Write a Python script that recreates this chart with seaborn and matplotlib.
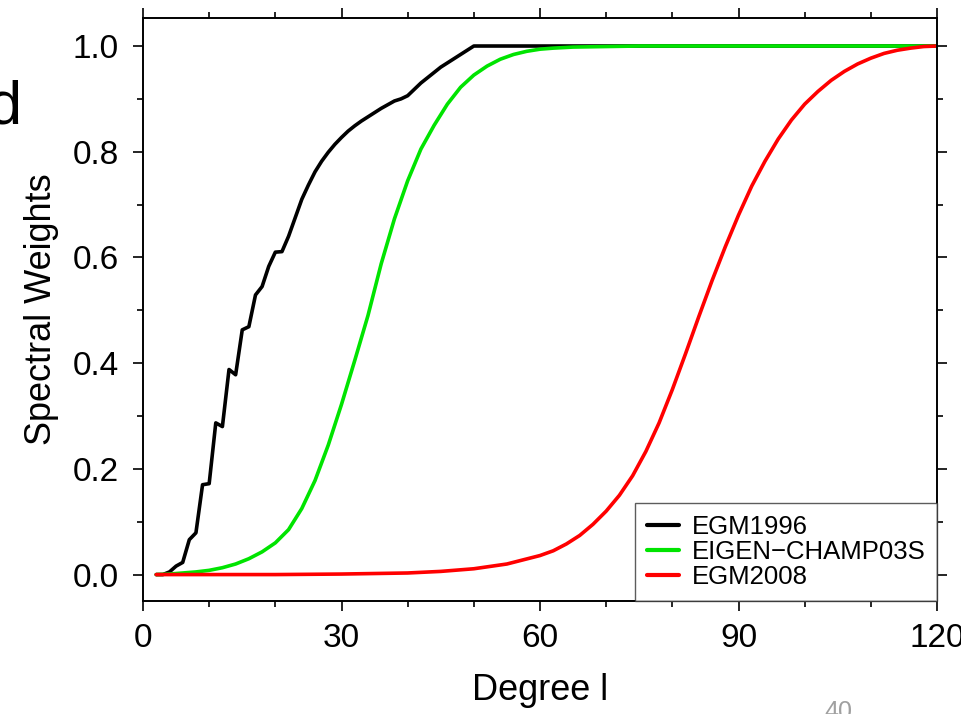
import matplotlib

matplotlib.use('Agg')
import matplotlib.pyplot as plt
import seaborn as sns
import pandas as pd
from matplotlib.ticker import MultipleLocator, FormatStrFormatter

# Данные
egm96_deg = [2, 3, 4, 5, 6, 7, 8, 9, 10, 11, 12, 13, 14, 15, 16, 17, 18, 19, 20,
             21, 22, 23, 24, 25, 26, 27, 28, 29, 30, 31, 32, 33, 34, 35, 36, 37,
             38, 39, 40, 41, 42, 43, 44, 45, 46, 47, 48, 49, 50, 120]
egm96_w = [0.0, 0.0, 0.005, 0.016, 0.023, 0.066, 0.079, 0.170, 0.172, 0.287,
           0.280, 0.388, 0.378, 0.463, 0.469, 0.529, 0.545, 0.583, 0.610, 0.611,
           0.640, 0.675, 0.710, 0.737, 0.762, 0.782, 0.799, 0.814, 0.827, 0.839,
           0.849, 0.858, 0.866, 0.874, 0.882, 0.889, 0.896, 0.900, 0.906, 0.918,
           0.930, 0.940, 0.950, 0.960, 0.968, 0.976, 0.984, 0.992, 1.0, 1.0]

champ_deg = [2, 4, 6, 8, 10, 12, 14, 16, 18, 20, 22, 24, 26, 28, 30, 32, 34, 36,
             38, 40, 42, 44, 46, 48, 50, 52, 54, 56, 58, 60, 62, 65, 70, 75, 120]
champ_w = [0.0, 0.001, 0.003, 0.005, 0.008, 0.013, 0.020, 0.030, 0.043, 0.060,
           0.085, 0.125, 0.178, 0.245, 0.322, 0.405, 0.490, 0.588, 0.673, 0.745,
           0.805, 0.850, 0.890, 0.922, 0.945, 0.962, 0.975, 0.984, 0.990, 0.994,
           0.996, 0.998, 0.999, 1.0, 1.0]

egm08_deg = [2, 10, 20, 30, 40, 45, 50, 55, 60, 62, 64, 66, 68, 70, 72, 74, 76,
             78, 80, 82, 84, 86, 88, 90, 92, 94, 96, 98, 100, 102, 104, 106, 108,
             110, 112, 114, 116, 118, 120]
egm08_w = [0.0, 0.0, 0.0, 0.001, 0.003, 0.006, 0.011, 0.020, 0.036, 0.045, 0.058,
           0.074, 0.095, 0.120, 0.150, 0.187, 0.233, 0.287, 0.350, 0.418, 0.488,
           0.556, 0.620, 0.680, 0.735, 0.782, 0.824, 0.860, 0.890, 0.914, 0.935,
           0.952, 0.966, 0.977, 0.986, 0.992, 0.996, 0.999, 1.0]

models = ['EGM1996', 'EIGEN\u2212CHAMP03S', 'EGM2008']
colors = {'EGM1996': 'black', 'EIGEN\u2212CHAMP03S': '#00e400', 'EGM2008': '#ff0000'}

df = pd.concat([
    pd.DataFrame({'degree': egm96_deg, 'weight': egm96_w, 'model': models[0]}),
    pd.DataFrame({'degree': champ_deg, 'weight': champ_w, 'model': models[1]}),
    pd.DataFrame({'degree': egm08_deg, 'weight': egm08_w, 'model': models[2]}),
])

sns.set_theme(style="ticks", rc={'text.color': 'black', 'axes.labelcolor': 'black',
                                 'xtick.color': 'black', 'ytick.color': 'black'})
plt.rcParams['font.family'] = ['Liberation Sans', 'DejaVu Sans']

fig = plt.figure(figsize=(9.61, 7.14), dpi=100)
ax = fig.add_axes([143 / 961, 1 - 601 / 714, (937 - 143) / 961, (601 - 18) / 714])

sns.lineplot(data=df, x='degree', y='weight', hue='model', hue_order=models,
             palette=colors, linewidth=2.6, ax=ax, estimator=None, sort=True)

ax.set_xlim(0, 120)
ax.set_ylim(-0.05, 1.053)
ax.xaxis.set_major_locator(MultipleLocator(30))
ax.xaxis.set_minor_locator(MultipleLocator(10))
ax.yaxis.set_major_locator(MultipleLocator(0.2))
ax.yaxis.set_minor_locator(MultipleLocator(0.1))
ax.yaxis.set_major_formatter(FormatStrFormatter('%.1f'))

ax.tick_params(which='both', direction='out', top=True, right=True,
               color='black', width=1.2)
ax.tick_params(which='major', length=7.5, labelsize=24, labelcolor='black')
ax.tick_params(axis='y', which='major', pad=10)
ax.tick_params(axis='x', which='major', pad=8)
ax.tick_params(which='minor', length=4)
for s in ax.spines.values():
    s.set_linewidth(1.4)
    s.set_color('black')

ax.set_xlabel('Degree l', fontsize=26, labelpad=14, color='black')
ax.set_ylabel('Spectral Weights', fontsize=26, labelpad=10, color='black')

leg = ax.legend(loc='lower right', borderaxespad=0, fontsize=18.5, frameon=True,
                fancybox=False, handlelength=1.25, labelspacing=0.05,
                borderpad=0.45, handletextpad=0.5)
leg.get_frame().set_edgecolor('#333333')
leg.get_frame().set_linewidth(1.0)
for line in leg.get_lines():
    line.set_linewidth(3)
for t in leg.get_texts():
    t.set_color('black')

# обрезанные куски слайда по краям
fig.text(22 / 961, 1 - 108 / 714, 'd', ha='right', va='center', fontsize=44,
         color='black')
fig.text(838 / 961, 14 / 714, '40', ha='center', va='top', fontsize=18,
         color='#a0a0a0')

plt.savefig('out.png', dpi=100, facecolor='white')
plt.close()
